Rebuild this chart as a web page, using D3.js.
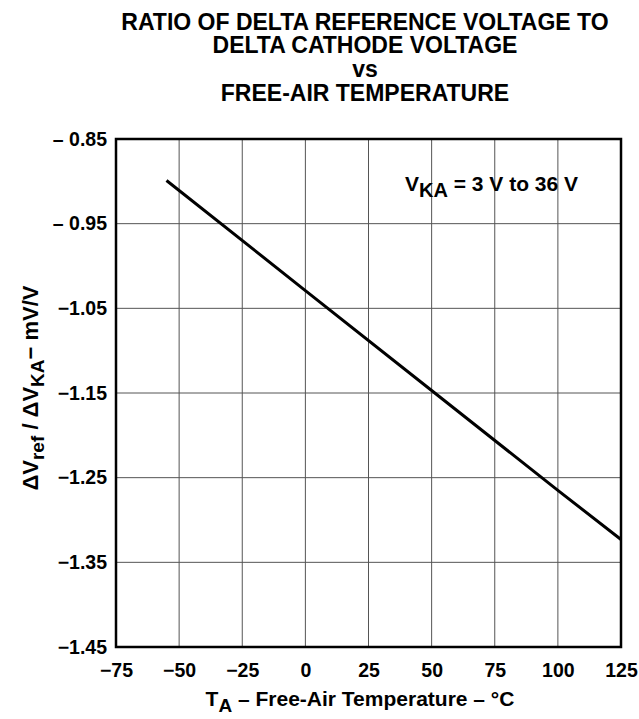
<!DOCTYPE html>
<html>
<head>
<meta charset="utf-8">
<script src="https://cdn.jsdelivr.net/npm/d3@7"></script>
<style>
  body { margin: 0; background: #fff; }
  text { font-family: "Liberation Sans", Arial, sans-serif; font-weight: bold; fill: #000; }
</style>
</head>
<body>
<script>
// data
const temps = [-55, 0, 50, 100, 125];
const ratios = [-0.899, -1.029, -1.147, -1.265, -1.323];
const xTicks = [-75, -50, -25, 0, 25, 50, 75, 100, 125];
const yTicks = [-0.85, -0.95, -1.05, -1.15, -1.25, -1.35, -1.45];
const yTickLabels = ['\u2013 0.85', '\u2013 0.95', '\u22121.05', '\u22121.15', '\u22121.25', '\u22121.35', '\u22121.45'];
const titleLines = ['RATIO OF DELTA REFERENCE VOLTAGE TO', 'DELTA CATHODE VOLTAGE', 'vs', 'FREE-AIR TEMPERATURE'];

const W = 639, H = 719;
const box = { left: 116, right: 621, top: 139, bottom: 647 };

const svg = d3.select('body').append('svg')
    .attr('width', W)
    .attr('height', H);

const x = d3.scaleLinear().domain([-75, 125]).range([box.left, box.right]);
const y = d3.scaleLinear().domain([-0.85, -1.45]).range([box.top, box.bottom]);

// TITLE
svg.append('g').selectAll('text')
    .data(titleLines)
    .enter().append('text')
    .attr('x', 365)
    .attr('y', (d, i) => 29.5 + i * 23.7)
    .attr('text-anchor', 'middle')
    .attr('font-size', '23px')
    .text(d => d);

// GRID
svg.append('g').selectAll('line')
    .data(xTicks.slice(1, -1))
    .enter().append('line')
    .attr('x1', d => x(d)).attr('x2', d => x(d))
    .attr('y1', box.top).attr('y2', box.bottom)
    .attr('stroke', '#555').attr('stroke-width', 1);

svg.append('g').selectAll('line')
    .data(yTicks.slice(1, -1))
    .enter().append('line')
    .attr('y1', d => y(d)).attr('y2', d => y(d))
    .attr('x1', box.left).attr('x2', box.right)
    .attr('stroke', '#555').attr('stroke-width', 1);

// FRAME
svg.append('rect')
    .attr('x', box.left).attr('y', box.top)
    .attr('width', box.right - box.left)
    .attr('height', box.bottom - box.top)
    .attr('fill', 'none')
    .attr('stroke', '#000')
    .attr('stroke-width', 2.5);

// CURVE
const line = d3.line()
    .x((d, i) => x(temps[i]))
    .y(d => y(d));

svg.append('path')
    .datum(ratios)
    .attr('d', line)
    .attr('fill', 'none')
    .attr('stroke', '#000')
    .attr('stroke-width', 3);

// AXES
const xAxis = d3.axisBottom(x).tickValues(xTicks).tickSize(0).tickPadding(16)
    .tickFormat(d => d < 0 ? '\u2212' + Math.abs(d) : d);
const gx = svg.append('g')
    .attr('transform', 'translate(0,' + box.bottom + ')')
    .call(xAxis);
gx.select('.domain').remove();
gx.selectAll('text')
    .attr('font-size', '19.5px')
    .attr('font-family', '"Liberation Sans", Arial, sans-serif')
    .attr('font-weight', 'bold')
    .attr('fill', '#000');

const yAxis = d3.axisLeft(y).tickValues(yTicks).tickSize(0).tickPadding(9)
    .tickFormat((d, i) => yTickLabels[i]);
const gy = svg.append('g')
    .attr('transform', 'translate(' + box.left + ',0)')
    .call(yAxis);
gy.select('.domain').remove();
gy.selectAll('text')
    .attr('font-size', '19.5px')
    .attr('font-family', '"Liberation Sans", Arial, sans-serif')
    .attr('font-weight', 'bold')
    .attr('fill', '#000');

// AXIS TITLES
const xt = svg.append('text')
    .attr('x', 360)
    .attr('y', 706)
    .attr('text-anchor', 'middle')
    .attr('font-size', '21px');
xt.append('tspan').text('T');
xt.append('tspan').attr('font-size', '19px').attr('dy', 6).text('A');
xt.append('tspan').attr('dy', -6).text(' \u2013 Free-Air Temperature \u2013 \u00b0C');

const yt = svg.append('text')
    .attr('transform', 'translate(38,388) rotate(-90)')
    .attr('text-anchor', 'middle')
    .attr('font-size', '22px');
yt.append('tspan').text('\u0394V');
yt.append('tspan').attr('font-size', '19px').attr('dy', 6).text('ref');
yt.append('tspan').attr('dy', -6).text(' / \u0394V');
yt.append('tspan').attr('font-size', '19px').attr('dy', 6).text('KA');
yt.append('tspan').attr('dy', -6).text('\u2212 mV/V');

// ANNOTATION
const note = svg.append('text')
    .attr('x', 405)
    .attr('y', 191)
    .attr('font-size', '21px');
note.append('tspan').text('V');
note.append('tspan').attr('font-size', '20px').attr('dy', 6).text('KA');
note.append('tspan').attr('dy', -6).text(' = 3 V to 36 V');
</script>
</body>
</html>
